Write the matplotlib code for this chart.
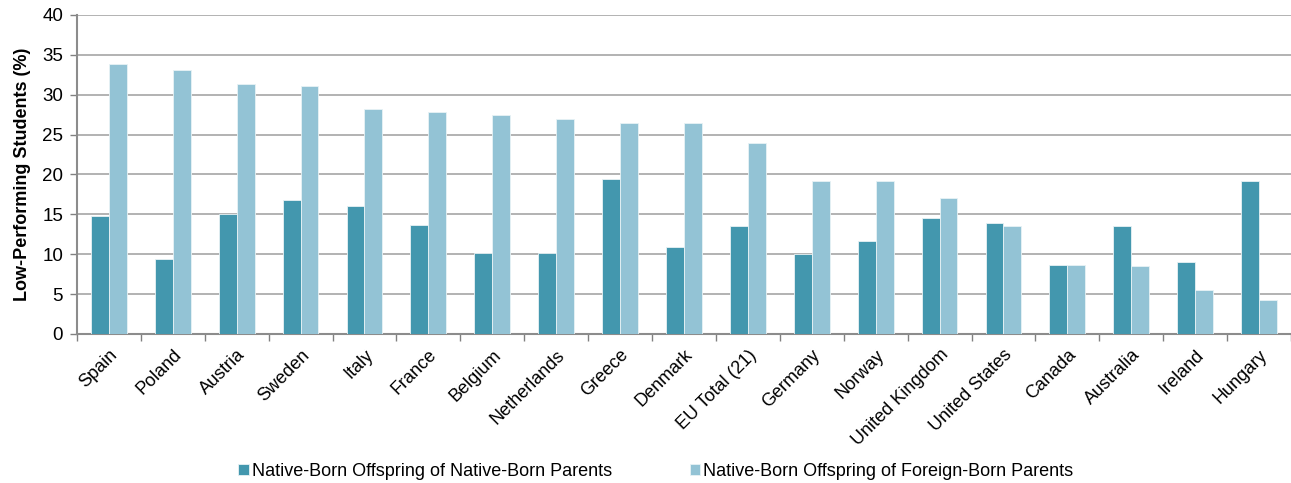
import numpy as np
import matplotlib
matplotlib.use("Agg")
from matplotlib import pyplot as plt

countries = ["Spain", "Poland", "Austria", "Sweden", "Italy", "France", "Belgium",
             "Netherlands", "Greece", "Denmark", "EU Total (21)", "Germany", "Norway",
             "United Kingdom", "United States", "Canada", "Australia", "Ireland", "Hungary"]
native_parents = [14.8, 9.4, 15.0, 16.8, 16.1, 13.7, 10.2, 10.2, 19.4, 10.9, 13.5,
                  10.0, 11.7, 14.5, 13.9, 8.7, 13.6, 9.0, 19.2]
foreign_parents = [33.9, 33.1, 31.3, 31.1, 28.2, 27.8, 27.4, 26.9, 26.5, 26.5, 24.0,
                   19.2, 19.2, 17.1, 13.6, 8.6, 8.5, 5.5, 4.2]
series_labels = ["Native-Born Offspring of Native-Born Parents",
                 "Native-Born Offspring of Foreign-Born Parents"]

plt.rcParams['font.family'] = ['Liberation Sans', 'DejaVu Sans']

dark_blue = '#4397AE'
light_blue = '#93C3D5'
grid_grey = '#A6A6A6'

fig = plt.figure(figsize=(12.91, 4.83), dpi=100)
ax = fig.add_axes([0.0596, 0.3085, 0.9404, 0.6605])

x = np.arange(len(countries))
width = 0.28
ax.bar(x - width / 2, native_parents, width, color=dark_blue, edgecolor='#E8F2F5',
       linewidth=0.6, label=series_labels[0], zorder=3)
ax.bar(x + width / 2, foreign_parents, width, color=light_blue, edgecolor='#E8F2F5',
       linewidth=0.6, label=series_labels[1], zorder=3)

ax.set_xlim(-0.5, len(countries) - 0.5)
ax.set_ylim(0, 40)
ax.set_yticks(range(0, 41, 5))
ax.yaxis.grid(True, color=grid_grey, linewidth=1.2, zorder=0)
ax.set_axisbelow(True)

# category labels at centres, tick marks at the boundaries
ax.set_xticks(x)
ax.set_xticklabels(countries, rotation=45, ha='right', rotation_mode='anchor', fontsize=13)
ax.set_xticks(np.arange(-0.5, len(countries)), minor=True)
ax.tick_params(axis='x', which='major', length=0, pad=9)
ax.tick_params(axis='x', which='minor', length=5, color='#808080', width=1)
ax.tick_params(axis='y', length=5, color='#808080', width=1, labelsize=13.5, pad=5)

for side in ['top', 'right']:
    ax.spines[side].set_visible(False)
for side in ['left', 'bottom']:
    ax.spines[side].set_color('#8C8C8C')
    ax.spines[side].set_linewidth(1.5)

ax.set_ylabel("Low-Performing Students (%)", fontsize=13, fontweight='bold', labelpad=8)

fig.legend(loc='center', bbox_to_anchor=(0.508, 0.024), ncol=2, frameon=False,
           fontsize=13, handlelength=0.6, handleheight=0.6, handletextpad=0.15,
           columnspacing=4.3, borderpad=0)

fig.savefig("out.png", dpi=100)
